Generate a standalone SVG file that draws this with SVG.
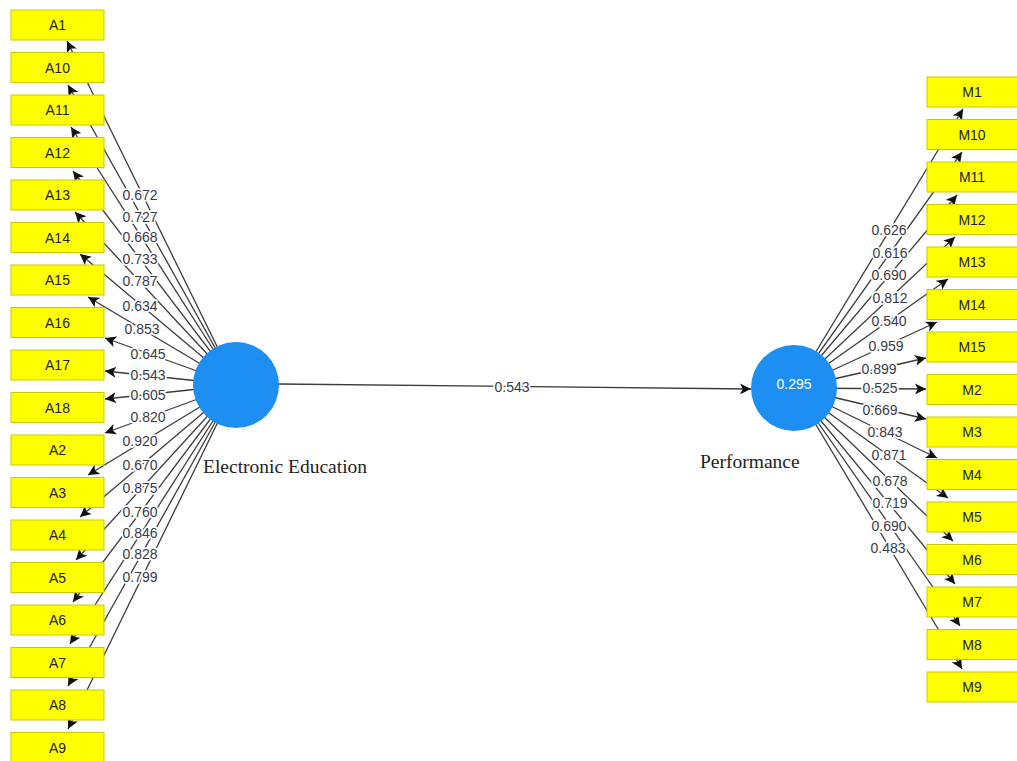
<svg xmlns="http://www.w3.org/2000/svg" width="1017" height="761" viewBox="0 0 1017 761">
<defs>
<marker id="ah" viewBox="0 0 10 10" refX="10" refY="5" markerWidth="11" markerHeight="11" markerUnits="userSpaceOnUse" orient="auto">
<path d="M0,0 L10,5 L0,10 L2.5,5 z" fill="#111"/>
</marker>
<style>
.ln{stroke:#3c3c3c;stroke-width:1.3;fill:none}
.ar{marker-end:url(#ah)}
.lb{font-family:"Liberation Sans",Arial,sans-serif;font-size:14px;fill:#3a3a48;text-anchor:middle;stroke:#fff;stroke-width:3.5;paint-order:stroke;stroke-linejoin:round}
.box{fill:#ffff00;stroke:#c9c900;stroke-width:1}
.bt{font-family:"Liberation Sans",Arial,sans-serif;font-size:14px;fill:#222;text-anchor:middle}
.lv{fill:#1e8ff2}
.nm{font-family:"Liberation Serif","Times New Roman",serif;font-size:19.5px;fill:#222}
</style>
</defs>
<rect width="1017" height="761" fill="#fff"/>
<g id="connectors">
<line class="ln ar" x1="236" y1="385" x2="67" y2="41"/>
<line class="ln ar" x1="236" y1="385" x2="68" y2="85"/>
<line class="ln ar" x1="236" y1="385" x2="71" y2="127"/>
<line class="ln ar" x1="236" y1="385" x2="73" y2="171"/>
<line class="ln ar" x1="236" y1="385" x2="75" y2="212"/>
<line class="ln ar" x1="236" y1="385" x2="80" y2="254"/>
<line class="ln ar" x1="236" y1="385" x2="88" y2="297"/>
<line class="ln ar" x1="236" y1="385" x2="105" y2="338"/>
<line class="ln ar" x1="236" y1="385" x2="105" y2="371"/>
<line class="ln ar" x1="236" y1="385" x2="105" y2="399"/>
<line class="ln ar" x1="236" y1="385" x2="105" y2="433"/>
<line class="ln ar" x1="236" y1="385" x2="88" y2="475"/>
<line class="ln ar" x1="236" y1="385" x2="80" y2="517"/>
<line class="ln ar" x1="236" y1="385" x2="76" y2="560"/>
<line class="ln ar" x1="236" y1="385" x2="73" y2="602"/>
<line class="ln ar" x1="236" y1="385" x2="70" y2="644"/>
<line class="ln ar" x1="236" y1="385" x2="68" y2="686"/>
<line class="ln ar" x1="236" y1="385" x2="68" y2="729"/>
<line class="ln ar" x1="794" y1="388" x2="963" y2="109"/>
<line class="ln ar" x1="794" y1="388" x2="962" y2="152"/>
<line class="ln ar" x1="794" y1="388" x2="957" y2="195"/>
<line class="ln ar" x1="794" y1="388" x2="955" y2="237"/>
<line class="ln ar" x1="794" y1="388" x2="948" y2="279"/>
<line class="ln ar" x1="794" y1="388" x2="937" y2="322"/>
<line class="ln ar" x1="794" y1="388" x2="926" y2="358"/>
<line class="ln ar" x1="794" y1="388" x2="926" y2="389"/>
<line class="ln ar" x1="794" y1="388" x2="926" y2="419"/>
<line class="ln ar" x1="794" y1="388" x2="937" y2="458"/>
<line class="ln ar" x1="794" y1="388" x2="948" y2="498"/>
<line class="ln ar" x1="794" y1="388" x2="953" y2="541"/>
<line class="ln ar" x1="794" y1="388" x2="955" y2="584"/>
<line class="ln ar" x1="794" y1="388" x2="960" y2="626"/>
<line class="ln ar" x1="794" y1="388" x2="962" y2="669"/>
<line class="ln ar" x1="279" y1="384" x2="751" y2="389"/>
<g id="loading-labels">
<text class="lb" x="140" y="200">0.672</text>
<text class="lb" x="140" y="222">0.727</text>
<text class="lb" x="140" y="242">0.668</text>
<text class="lb" x="140" y="264">0.733</text>
<text class="lb" x="140" y="286">0.787</text>
<text class="lb" x="140" y="311">0.634</text>
<text class="lb" x="142" y="334">0.853</text>
<text class="lb" x="148" y="359">0.645</text>
<text class="lb" x="148" y="380">0.543</text>
<text class="lb" x="148" y="400">0.605</text>
<text class="lb" x="148" y="422">0.820</text>
<text class="lb" x="140" y="446">0.920</text>
<text class="lb" x="140" y="470">0.670</text>
<text class="lb" x="140" y="493">0.875</text>
<text class="lb" x="140" y="517">0.760</text>
<text class="lb" x="140" y="538">0.846</text>
<text class="lb" x="140" y="559">0.828</text>
<text class="lb" x="140" y="582">0.799</text>
<text class="lb" x="889" y="235">0.626</text>
<text class="lb" x="890" y="258">0.616</text>
<text class="lb" x="889" y="280">0.690</text>
<text class="lb" x="890" y="303">0.812</text>
<text class="lb" x="889" y="326">0.540</text>
<text class="lb" x="886" y="351">0.959</text>
<text class="lb" x="879" y="374">0.899</text>
<text class="lb" x="880" y="393">0.525</text>
<text class="lb" x="880" y="415">0.669</text>
<text class="lb" x="885" y="437">0.843</text>
<text class="lb" x="889" y="460">0.871</text>
<text class="lb" x="890" y="486">0.678</text>
<text class="lb" x="890" y="508">0.719</text>
<text class="lb" x="889" y="531">0.690</text>
<text class="lb" x="888" y="553">0.483</text>
<text class="lb" x="512" y="392">0.543</text>
</g>
</g>
<g id="node-A1"><rect class="box" x="11" y="10" width="93" height="30"/><text class="bt" x="57.5" y="30">A1</text></g>
<g id="node-A10"><rect class="box" x="11" y="52.5" width="93" height="30"/><text class="bt" x="57.5" y="72.5">A10</text></g>
<g id="node-A11"><rect class="box" x="11" y="95" width="93" height="30"/><text class="bt" x="57.5" y="115">A11</text></g>
<g id="node-A12"><rect class="box" x="11" y="137.5" width="93" height="30"/><text class="bt" x="57.5" y="157.5">A12</text></g>
<g id="node-A13"><rect class="box" x="11" y="180" width="93" height="30"/><text class="bt" x="57.5" y="200">A13</text></g>
<g id="node-A14"><rect class="box" x="11" y="222.5" width="93" height="30"/><text class="bt" x="57.5" y="242.5">A14</text></g>
<g id="node-A15"><rect class="box" x="11" y="265" width="93" height="30"/><text class="bt" x="57.5" y="285">A15</text></g>
<g id="node-A16"><rect class="box" x="11" y="307.5" width="93" height="30"/><text class="bt" x="57.5" y="327.5">A16</text></g>
<g id="node-A17"><rect class="box" x="11" y="350" width="93" height="30"/><text class="bt" x="57.5" y="370">A17</text></g>
<g id="node-A18"><rect class="box" x="11" y="392.5" width="93" height="30"/><text class="bt" x="57.5" y="412.5">A18</text></g>
<g id="node-A2"><rect class="box" x="11" y="435" width="93" height="30"/><text class="bt" x="57.5" y="455">A2</text></g>
<g id="node-A3"><rect class="box" x="11" y="477.5" width="93" height="30"/><text class="bt" x="57.5" y="497.5">A3</text></g>
<g id="node-A4"><rect class="box" x="11" y="520" width="93" height="30"/><text class="bt" x="57.5" y="540">A4</text></g>
<g id="node-A5"><rect class="box" x="11" y="562.5" width="93" height="30"/><text class="bt" x="57.5" y="582.5">A5</text></g>
<g id="node-A6"><rect class="box" x="11" y="605" width="93" height="30"/><text class="bt" x="57.5" y="625">A6</text></g>
<g id="node-A7"><rect class="box" x="11" y="647.5" width="93" height="30"/><text class="bt" x="57.5" y="667.5">A7</text></g>
<g id="node-A8"><rect class="box" x="11" y="690" width="93" height="30"/><text class="bt" x="57.5" y="710">A8</text></g>
<g id="node-A9"><rect class="box" x="11" y="732.5" width="93" height="30"/><text class="bt" x="57.5" y="752.5">A9</text></g>
<g id="node-M1"><rect class="box" x="927" y="77" width="93" height="30"/><text class="bt" x="972" y="97">M1</text></g>
<g id="node-M10"><rect class="box" x="927" y="119.5" width="93" height="30"/><text class="bt" x="972" y="139.5">M10</text></g>
<g id="node-M11"><rect class="box" x="927" y="162" width="93" height="30"/><text class="bt" x="972" y="182">M11</text></g>
<g id="node-M12"><rect class="box" x="927" y="204.5" width="93" height="30"/><text class="bt" x="972" y="224.5">M12</text></g>
<g id="node-M13"><rect class="box" x="927" y="247" width="93" height="30"/><text class="bt" x="972" y="267">M13</text></g>
<g id="node-M14"><rect class="box" x="927" y="289.5" width="93" height="30"/><text class="bt" x="972" y="309.5">M14</text></g>
<g id="node-M15"><rect class="box" x="927" y="332" width="93" height="30"/><text class="bt" x="972" y="352">M15</text></g>
<g id="node-M2"><rect class="box" x="927" y="374.5" width="93" height="30"/><text class="bt" x="972" y="394.5">M2</text></g>
<g id="node-M3"><rect class="box" x="927" y="417" width="93" height="30"/><text class="bt" x="972" y="437">M3</text></g>
<g id="node-M4"><rect class="box" x="927" y="459.5" width="93" height="30"/><text class="bt" x="972" y="479.5">M4</text></g>
<g id="node-M5"><rect class="box" x="927" y="502" width="93" height="30"/><text class="bt" x="972" y="522">M5</text></g>
<g id="node-M6"><rect class="box" x="927" y="544.5" width="93" height="30"/><text class="bt" x="972" y="564.5">M6</text></g>
<g id="node-M7"><rect class="box" x="927" y="587" width="93" height="30"/><text class="bt" x="972" y="607">M7</text></g>
<g id="node-M8"><rect class="box" x="927" y="629.5" width="93" height="30"/><text class="bt" x="972" y="649.5">M8</text></g>
<g id="node-M9"><rect class="box" x="927" y="672" width="93" height="30"/><text class="bt" x="972" y="692">M9</text></g>
<g id="node-electronic-education"><circle class="lv" cx="236" cy="385" r="43"/><text class="nm" x="203" y="473">Electronic Education</text></g>
<g id="node-performance"><circle class="lv" cx="794" cy="388" r="43"/><text x="794" y="389" font-family="Liberation Sans,Arial,sans-serif" font-size="14" fill="#fff" text-anchor="middle">0.295</text><text class="nm" x="700" y="468">Performance</text></g>
</svg>
